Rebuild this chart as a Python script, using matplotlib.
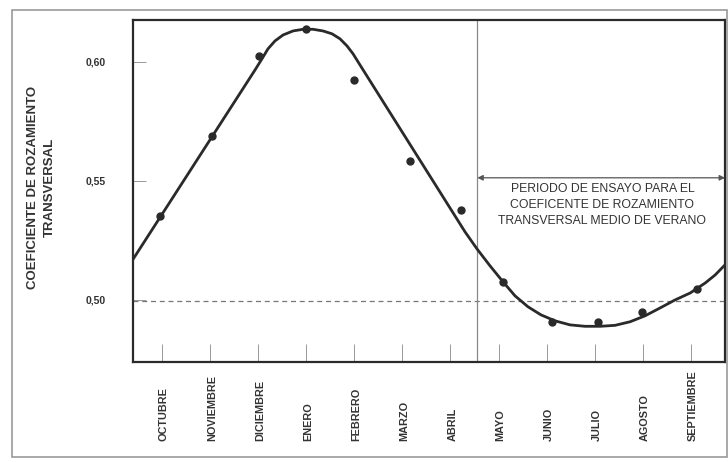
"""Coeficiente de rozamiento transversal a lo largo del año"""

import matplotlib.pyplot as plt
from matplotlib.patches import Rectangle

#########
# Datos #
#########

months = ['OCTUBRE', 'NOVIEMBRE', 'DICIEMBRE', 'ENERO', 'FEBRERO', 'MARZO',
          'ABRIL', 'MAYO', 'JUNIO', 'JULIO', 'AGOSTO', 'SEPTIEMBRE']

# measured points (x in month units, 0 = octubre)
point_x = [-0.03, 1.05, 2.03, 3.00, 4.00, 5.16, 6.21, 7.09, 8.12, 9.07, 9.99, 11.12]
point_y = [0.5353, 0.5689, 0.6025, 0.6139, 0.5924, 0.5584, 0.5378, 0.5076,
           0.4908, 0.4908, 0.4950, 0.5046]

# fitted curve
curve_x = [-0.617, 1.939, 2.084, 2.209, 2.354, 2.521, 2.729, 2.937, 3.144, 3.352,
           3.539, 3.705, 3.851, 3.976, 4.121, 6.303, 6.553, 6.823, 7.093, 7.342,
           7.612, 7.882, 8.173, 8.485, 8.797, 9.109, 9.420, 9.732, 10.044, 10.356,
           10.671, 10.983, 11.295, 11.503, 11.72]
curve_y = [0.5164, 0.5966, 0.6013, 0.6055, 0.6088, 0.6113, 0.6130, 0.6137, 0.6137, 0.6130,
           0.6118, 0.6097, 0.6067, 0.6034, 0.5987, 0.5286, 0.5214, 0.5143, 0.5076, 0.5017,
           0.4971, 0.4937, 0.4912, 0.4895, 0.4889, 0.4889, 0.4893, 0.4908, 0.4933, 0.4966,
           0.5000, 0.5029, 0.5071, 0.5105, 0.5150]

y_ticks = [0.50, 0.55, 0.60]
y_tick_labels = ['0,50', '0,55', '0,60']

reference_value = 0.4995
period_start = 6.56
arrow_y = 0.5513
period_text = ('PERIODO DE ENSAYO PARA EL\n'
               'COEFICENTE DE ROZAMIENTO\n'
               'TRANSVERSAL MEDIO DE VERANO')

###########
# Grafico #
###########

plt.rcParams['font.family'] = ['Liberation Sans Narrow', 'Liberation Sans', 'DejaVu Sans']
wide = ['Liberation Sans', 'DejaVu Sans']
ink = '#2a2a2a'
grey = '#777777'

fig = plt.figure(figsize=(7.28, 4.62), dpi=100)
fig.patches.append(Rectangle((12 / 728, 5 / 462), 715 / 728, 447 / 462,
                             transform=fig.transFigure, fill=False,
                             edgecolor='#999999', linewidth=1.2))

ax = fig.add_axes([132.5 / 728, 100 / 462, 592.5 / 728, 342 / 462])
ax.set_xlim(-0.607, 11.706)
ax.set_ylim(0.4739, 0.6176)

ax.plot(curve_x, curve_y, color=ink, linewidth=2.0, solid_capstyle='round',
        solid_joinstyle='round', zorder=3)
ax.plot(point_x, point_y, 'o', color=ink, markersize=5, zorder=4)

ax.axhline(reference_value, color=grey, linewidth=0.9, dashes=(4, 3), zorder=1)
ax.axvline(period_start, color='#888888', linewidth=0.9, zorder=1)

ax.annotate('', xy=(11.706, arrow_y), xytext=(period_start, arrow_y),
            arrowprops=dict(arrowstyle='<|-|>', color='#555555', linewidth=0.9,
                            mutation_scale=8, shrinkA=0, shrinkB=0))
ax.text(9.16, arrow_y - 0.0022, period_text, ha='center', va='top',
        fontsize=8.8, color='#333333', linespacing=1.45)

for side in ax.spines.values():
    side.set_color(ink)
    side.set_linewidth(1.6)

ax.set_yticks(y_ticks)
ax.set_yticklabels(y_tick_labels, fontsize=7.5, fontweight='bold', color='#333333',
                   family=wide)
ax.tick_params(axis='y', direction='in', length=9.5, width=0.7, color='#999999', pad=19)

ax.set_xticks(range(len(months)))
ax.set_xticklabels([])
ax.tick_params(axis='x', direction='in', length=13, width=0.7, color='#999999')
for i, name in enumerate(months):
    ax.text(i + 0.04, -0.232, name, transform=ax.get_xaxis_transform(),
            rotation=90, ha='center', va='bottom', fontsize=7.8,
            fontweight='bold', color='#333333')

fig.text(33 / 728, 1 - 187 / 462, 'COEFICIENTE DE ROZAMIENTO', rotation=90,
         ha='center', va='center', fontsize=9.5, fontweight='bold', color='#333333',
         family=wide)
fig.text(50 / 728, 1 - 187 / 462, 'TRANSVERSAL', rotation=90,
         ha='center', va='center', fontsize=9.5, fontweight='bold', color='#333333',
         family=wide)

fig.savefig('out.png', dpi=100)
